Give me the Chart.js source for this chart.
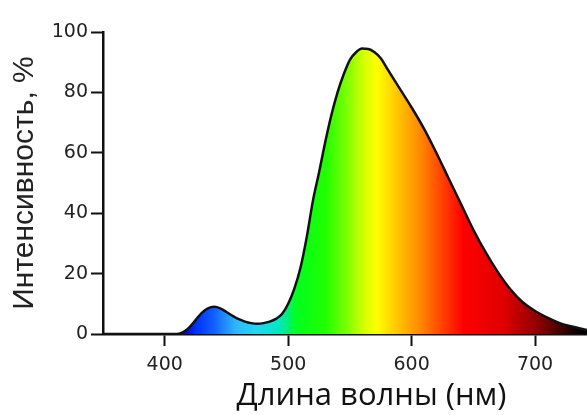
<!DOCTYPE html>
<html>
<head>
<meta charset="utf-8">
<script src="https://cdn.jsdelivr.net/npm/chart.js@4.4.1/dist/chart.umd.min.js"></script>
<style>
  html, body { margin: 0; padding: 0; background: #fff; overflow: hidden; width: 587px; height: 415px; }
  #wrap { width: 640px; height: 415px; }
</style>
</head>
<body>
<div id="wrap"><canvas id="c" width="640" height="415"></canvas></div>
<script>
// Wavelength (nm) samples and relative intensity (%)
const wavelengths = [350, 400, 410, 415, 420, 425, 430, 435, 440, 445, 450, 455, 460, 465, 470, 475, 480, 485, 490, 495,
                     500, 505, 510, 515, 520, 525, 530, 535, 540, 545, 550, 555, 560, 565, 570, 575, 580, 590,
                     600, 610, 620, 630, 640, 650, 660, 670, 680, 690, 700, 710, 720, 730, 740, 750, 760, 785];
const intensity =   [0, 0, 0, 0.6, 2.2, 4.6, 7.0, 8.5, 9.0, 8.5, 7.3, 6.0, 4.9, 4.1, 3.6, 3.4, 3.6, 4.1, 5.0, 6.6,
                     10.0, 15.0, 22.0, 32.0, 44.0, 53.5, 63.5, 72.5, 80.0, 86.0, 90.8, 93.3, 94.5, 94.4, 93.3, 91.3, 88.0, 81.5,
                     75.0, 68.0, 60.0, 51.5, 43.0, 34.5, 27.0, 20.4, 14.8, 10.5, 7.6, 5.4, 3.6, 2.5, 1.5, 0.8, 0.4, 0];
const xTicks = [400, 500, 600, 700];
const yTicks = [0, 20, 40, 60, 80, 100];

// Spectrum colour stops (wavelength, colour)
const stopWl =    [405, 415, 425, 440, 458, 475, 493, 500, 506, 530, 548, 562, 572, 590, 605, 625, 642, 674, 702, 737];
const stopColor = ['#000080', '#0000c0', '#0030ff', '#1060ff', '#30b8ff', '#20d8f0', '#00e8c0', '#00f070', '#00ff20',
                   '#20ff00', '#80ff00', '#d8ff00', '#ffff00', '#ffc000', '#ff9000', '#ff4000', '#ff0000', '#e00000',
                   '#900000', '#000000'];

const points = wavelengths.map((w, i) => ({ x: w, y: intensity[i] }));

function spectrum(ctx) {
  const chart = ctx.chart;
  const area = chart.chartArea;
  const sx = chart.scales.x;
  if (!area || !sx) return 'rgba(0,0,0,0)';
  const x0 = sx.getPixelForValue(sx.min), x1 = sx.getPixelForValue(sx.max);
  const g = chart.ctx.createLinearGradient(x0, 0, x1, 0);
  stopWl.forEach((w, i) => g.addColorStop((w - sx.min) / (sx.max - sx.min), stopColor[i]));
  return g;
}

new Chart(document.getElementById('c'), {
  type: 'line',
  data: {
    datasets: [{
      data: points,
      borderColor: '#111',
      borderWidth: 2.5,
      pointRadius: 0,
      cubicInterpolationMode: 'monotone',
      fill: 'origin',
      backgroundColor: spectrum
    }]
  },
  options: {
    responsive: false,
    animation: false,
    devicePixelRatio: 1,
    layout: { padding: { left: 0, top: 32, right: 0, bottom: 0 } },
    plugins: { legend: { display: false }, tooltip: { enabled: false } },
    scales: {
      x: {
        type: 'linear',
        min: 350,
        max: 785,
        afterBuildTicks: s => { s.ticks = xTicks.map(v => ({ value: v })); },
        afterFit: s => { s.height = 81; },
        grid: { display: true, drawOnChartArea: false, drawTicks: true, tickLength: 12, tickColor: '#111', tickWidth: 2 },
        border: { display: true, color: '#111', width: 2.5 },
        ticks: { color: '#222', padding: 8, font: { family: 'DejaVu Sans', size: 19 }, maxRotation: 0 },
        title: { display: true, text: 'Длина волны (нм)', color: '#111', font: { family: 'Open Sans', size: 31 }, padding: { top: 0, bottom: 0 } }
      },
      y: {
        min: 0,
        max: 100,
        afterBuildTicks: s => { s.ticks = yTicks.map(v => ({ value: v })); },
        afterFit: s => { s.width = 103; },
        grid: { display: true, drawOnChartArea: false, drawTicks: true, tickLength: 12, tickColor: '#111', tickWidth: 2 },
        border: { display: true, color: '#111', width: 2.5 },
        ticks: { color: '#222', padding: 3, font: { family: 'DejaVu Sans', size: 19 } },
        title: { display: true, text: 'Интенсивность, %', color: '#222', font: { family: 'Liberation Sans', size: 30 }, padding: { top: 7, bottom: 0 } }
      }
    }
  }
});
</script>
</body>
</html>
